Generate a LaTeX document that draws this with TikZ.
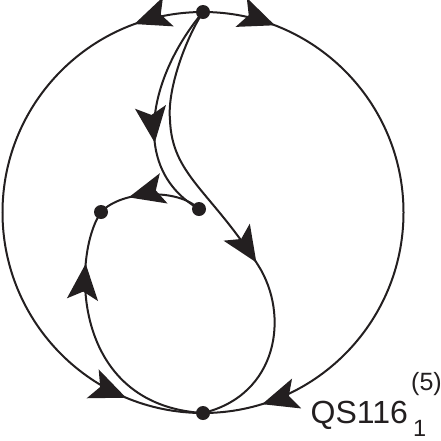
\documentclass[tikz,border=0pt]{standalone}
\usepackage{fontspec}
\setmainfont{Liberation Sans}
\usetikzlibrary{arrows.meta,decorations.markings}
\definecolor{ink}{RGB}{35,31,32}
\begin{document}
\begin{tikzpicture}[x=1pt,y=-1pt,
  edge/.style={line width=2pt, draw=ink},
  dot/.style={circle, fill=ink, inner sep=0pt, minimum size=14pt},
  arrowat/.style={postaction={decorate, decoration={markings,
      mark=at position #1 with {\arrow[ink]{Stealth[length=36pt,width=31pt,inset=8pt]}}}}},
  lbl/.style={anchor=base west, inner sep=0pt, text=ink}
]
\useasboundingbox (0,0) rectangle (441,440);
% vertices
\node[dot] (T) at (203,12) {};
\node[dot] (B) at (203,413) {};
\node[dot] (M) at (199,209) {};
\node[dot] (L) at (101,212) {};
\coordinate (S) at (170,120);
\coordinate (Q) at (258,265);
% outer circle, two halves
\draw[edge, arrowat=70pt, arrowat=551pt] (T.center) arc[start angle=270, end angle=90, radius=200.5];
\draw[edge, arrowat=73.5pt, arrowat=570pt] (T.center) arc[start angle=-90, end angle=90, radius=200.5];
% inner left curve T -> M
\draw[edge, arrowat=143pt] (T.center) .. controls (150,75) and (128,168) .. (M.center);
% inner right curve T -> B
\draw[edge, arrowat=284pt] (T.center) .. controls (185,40) and (167,90) .. (S)
   .. controls (172,175) and (210,190) .. (Q)
   .. controls (290,315) and (278,395) .. (B.center);
% M -> L
\draw[edge, arrowat=74pt] (M.center) .. controls (178,188) and (122,190) .. (L.center);
% B -> L
\draw[edge, arrowat=215pt] (B.center) .. controls (70,405) and (72,255) .. (L.center);
% label
\node[lbl, font=\fontsize{32}{38}\selectfont] (name) at (310.5,423) {QS116};
\node[lbl, font=\fontsize{25}{30}\selectfont] (sup) at (411,390) {(5)};
\node[lbl, font=\fontsize{23.5}{28}\selectfont] (sub) at (413,436) {1};
\end{tikzpicture}
\end{document}
